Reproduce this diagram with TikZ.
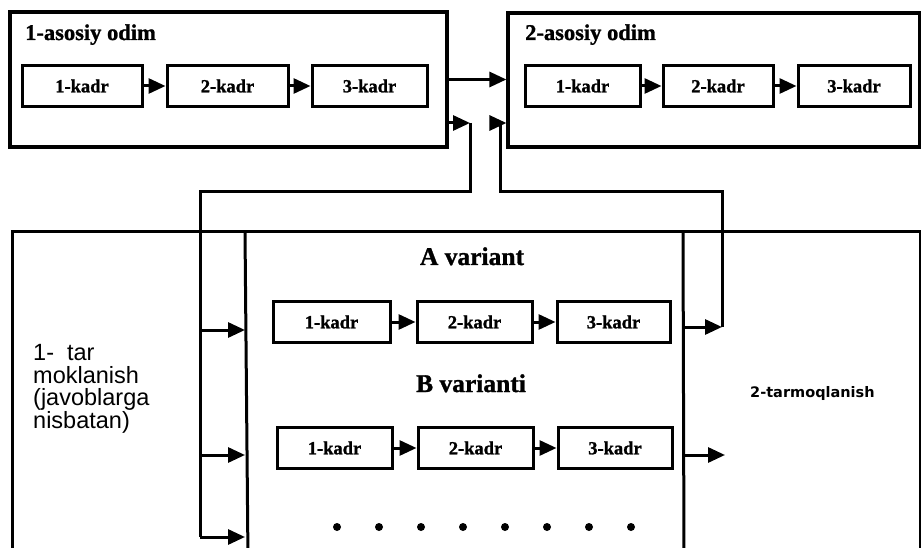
\documentclass[tikz,border=0pt]{standalone}
\usepackage{fontspec}
\setmainfont{Liberation Serif}[BoldFeatures={FakeBold=1.2}]
\newfontfamily\sansfnt{Liberation Sans}
\newfontfamily\sansbfnt{DejaVu Sans}
\usetikzlibrary{arrows.meta}
\begin{document}
\begin{tikzpicture}[x=1pt,y=-1pt,
  ln/.style={line width=3pt},
  arr/.style={line width=3pt,-{Triangle[length=17pt,width=15pt]}},
  frame/.style={draw,line width=3.2pt,inner sep=0pt},
  kadr/.style={draw,line width=3pt,minimum height=41pt,inner sep=0pt,font=\fontsize{18.5}{20}\selectfont\bfseries},
  ttl/.style={inner sep=0pt,font=\fontsize{22.5}{24}\selectfont\bfseries},
  variant/.style={inner sep=0pt,font=\fontsize{25.5}{28}\selectfont\bfseries}]
\useasboundingbox (0,0) rectangle (921,548);

% top frames
\node[frame,minimum width=437pt,minimum height=135pt] (tl) at (228.5,79.5) {};
\node[frame,minimum width=412pt,minimum height=134pt] (tr) at (714,80) {};
\node[ttl,anchor=base west] (tlt) at (25,40) {1-asosiy odim};
\node[ttl,anchor=base west] (trt) at (525,40) {2-asosiy odim};

% top-left kadrs
\node[kadr,minimum width=120pt] (t1) at (82,86) {1-kadr};
\node[kadr,minimum width=121pt] (t2) at (227.5,86) {2-kadr};
\node[kadr,minimum width=115pt] (t3) at (369.5,86) {3-kadr};
\draw[arr] (t1.east) -- (t2.west);
\draw[arr] (t2.east) -- (t3.west);

% top-right kadrs
\node[kadr,minimum width=115pt] (r1) at (582.5,86) {1-kadr};
\node[kadr,minimum width=110pt] (r2) at (718,86) {2-kadr};
\node[kadr,minimum width=112pt] (r3) at (854,86) {3-kadr};
\draw[arr] (r1.east) -- (r2.west);
\draw[arr] (r2.east) -- (r3.west);

% main arrow between steps
\draw[arr] (tl.east) -- (tl.east -| tr.west);

% lower big frame
\coordinate (bl) at (12,560);
\coordinate (btl) at (12,232);
\coordinate (btr) at (920,232);
\coordinate (bbr) at (920,560);
\draw[ln] (bl) -- (btl) -- (btr) -- (bbr);
\coordinate (mLt) at (245,232);
\coordinate (mLb) at (248,560);
\coordinate (mRt) at (683,232);
\coordinate (mRb) at (684,560);
\draw[ln] (mLt) -- (mLb);
\draw[ln] (mRt) -- (mRb);

% variant titles
\node[variant,anchor=base] (va) at (472,265) {A variant};
\node[variant,anchor=base] (vb) at (471,392) {B varianti};

% row A
\node[kadr,minimum width=117pt] (a1) at (331.5,322) {1-kadr};
\node[kadr,minimum width=115pt] (a2) at (474.5,322) {2-kadr};
\node[kadr,minimum width=113pt] (a3) at (613.5,322) {3-kadr};
\draw[arr] (a1.east) -- (a2.west);
\draw[arr] (a2.east) -- (a3.west);

% row B
\node[kadr,minimum width=115pt] (b1) at (334.5,448) {1-kadr};
\node[kadr,minimum width=115pt] (b2) at (475.5,448) {2-kadr};
\node[kadr,minimum width=114pt] (b3) at (615,448) {3-kadr};
\draw[arr] (b1.east) -- (b2.west);
\draw[arr] (b2.east) -- (b3.west);

% dots
\foreach \i in {0,...,7} \fill (337+42*\i,527) circle (4pt);

% loop 1 : from step 1 into the variants
\coordinate (p1) at (470,123);
\coordinate (p2) at (470,192);
\coordinate (p3) at (200,192);
\coordinate (p4) at (200,537);
\coordinate (yA) at (0,330);
\coordinate (yB) at (0,455);
\draw[arr] (tl.east |- p1) -- (p1);
\draw[ln] (p1) -- (p2) -- (p3) -- (p4);
\draw[arr] (p3 |- yA) -- (mLt |- yA);
\draw[arr] (p3 |- yB) -- (mLt |- yB);
\draw[arr] (p4) -- (p4 -| mLt);

% loop 2 : from variants to step 2
\coordinate (q1) at (722,327);
\coordinate (q2) at (722,192);
\coordinate (q3) at (500,192);
\coordinate (q4) at (500,123);
\coordinate (q5) at (491,123);
\coordinate (s1) at (725,455);
\draw[arr] (mRt |- q1) -- (q1);
\draw[ln] (q1) -- (q2) -- (q3) -- (q4);
\draw[arr] (q5) -- (q5 -| tr.west);
\draw[arr] (mRt |- s1) -- (s1);

% side texts
\node[anchor=west,inner sep=0pt,align=left,font=\sansfnt\fontsize{23.5}{22.5}\selectfont] (lt) at (33,389) {1-\ \ tar\\moklanish\\(javoblarga\\nisbatan)};
\node[anchor=west,inner sep=0pt,font=\sansbfnt\bfseries\fontsize{14.5}{16}\selectfont] (rtx) at (750,393) {2-tarmoqlanish};
\end{tikzpicture}
\end{document}
